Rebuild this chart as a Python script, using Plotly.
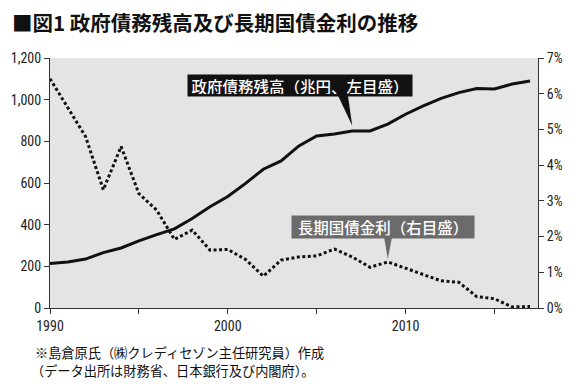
import plotly.graph_objects as go

years = list(range(1990, 2018))
debt = [214, 221, 235, 266, 288, 322, 352, 380, 430, 486, 535, 598, 666, 706, 778, 826,
        835, 850, 850, 883, 930, 970, 1006, 1034, 1054, 1051, 1075, 1090]
rate = [6.42, 5.6, 4.8, 3.31, 4.52, 3.2, 2.74, 1.92, 2.18, 1.62, 1.64, 1.36, 0.89, 1.34,
        1.43, 1.46, 1.65, 1.43, 1.14, 1.29, 1.11, 0.95, 0.76, 0.72, 0.32, 0.26, 0.03, 0.04]

x_tickvals = [1990, 1995, 2000, 2005, 2010, 2015]
x_ticktext = ["1990", "", "2000", "", "2010", ""]
y_tickvals = [0, 200, 400, 600, 800, 1000, 1200]
y_ticktext = ["0", "200", "400", "600", "800", "1,000", "1,200"]
y2_tickvals = [0, 1, 2, 3, 4, 5, 6, 7]
y2_ticktext = ["0%", "1%", "2%", "3%", "4%", "5%", "6%", "7%"]

title_text = "■図1 政府債務残高及び長期国債金利の推移"
debt_label = "政府債務残高（兆円、左目盛）"
rate_label = "長期国債金利（右目盛）"
note1 = "※島倉原氏（㈱クレディセゾン主任研究員）作成"
note2 = "（データ出所は財務省、日本銀行及び内閣府）。"

CJK = "Noto Sans CJK JP"
NUM = "Liberation Sans Narrow, Arial Narrow, Roboto Condensed, Liberation Sans, sans-serif"

fig = go.Figure()
fig.add_trace(go.Scatter(x=years, y=debt, mode="lines",
                         line=dict(color="#111111", width=3), yaxis="y", showlegend=False))
fig.add_trace(go.Scatter(x=years, y=rate, mode="lines",
                         line=dict(color="#111111", width=3, dash="3px,2.5px"),
                         yaxis="y2", showlegend=False))

axis_common = dict(showgrid=False, zeroline=False, showline=True, linecolor="#333333",
                   linewidth=1, ticks="outside", ticklen=5, tickcolor="#333333",
                   tickfont=dict(family=NUM, size=14, color="#222222"))

fig.update_layout(
    width=587, height=388,
    margin=dict(l=50, r=49, t=58, b=80),
    paper_bgcolor="white", plot_bgcolor="#e4e4e4",
    xaxis=dict(range=[1990, 2017.45], tickvals=x_tickvals, ticktext=x_ticktext, **axis_common),
    yaxis=dict(range=[0, 1200], tickvals=y_tickvals, ticktext=y_ticktext, **axis_common),
    yaxis2=dict(range=[0, 7], tickvals=y2_tickvals, ticktext=y2_ticktext, overlaying="y",
                side="right", **axis_common),
)

# Label boxes
fig.add_annotation(x=2004.06, y=1068, xref="x", yref="y", text=debt_label, showarrow=False,
                   font=dict(family=CJK, size=15.5, color="white", weight=500), bgcolor="#111111",
                   width=220, height=17, borderpad=2, xanchor="center", yanchor="middle")
fig.add_annotation(x=2008.72, y=2.28, xref="x", yref="y2", text=rate_label, showarrow=False,
                   font=dict(family=CJK, size=15.5, color="white", weight=500), bgcolor="#6b6b6b",
                   width=178, height=17.5, borderpad=2, xanchor="center", yanchor="middle")

# Pointers
fig.add_shape(type="path", xref="x", yref="y",
              path="M 2006.2 1020 L 2006.76 1020 L 2007.0 875 Z",
              fillcolor="#111111", line=dict(width=0))
fig.add_shape(type="path", xref="x", yref="y2",
              path="M 2008.79 1.99 L 2009.24 1.99 L 2009.0 1.37 Z",
              fillcolor="#6b6b6b", line=dict(width=0))


def px_annot(text, x_px, y_px, size, weight=400):
    fig.add_annotation(
        x=(x_px - 50) / 488, y=1 - (y_px - 58) / 250, xref="paper", yref="paper",
        text=text, showarrow=False, xanchor="left", yanchor="middle",
        font=dict(family=CJK, size=size, color="#111111", weight=weight))


px_annot(title_text, 10, 21.5, 20.5, weight=600)
px_annot(note1, 33, 352, 13.2)
px_annot(note2, 29, 370, 13.2)

fig.write_html("out.html", config={"displayModeBar": False},
               post_script="document.body.style.margin='0';document.body.style.padding='0';")
